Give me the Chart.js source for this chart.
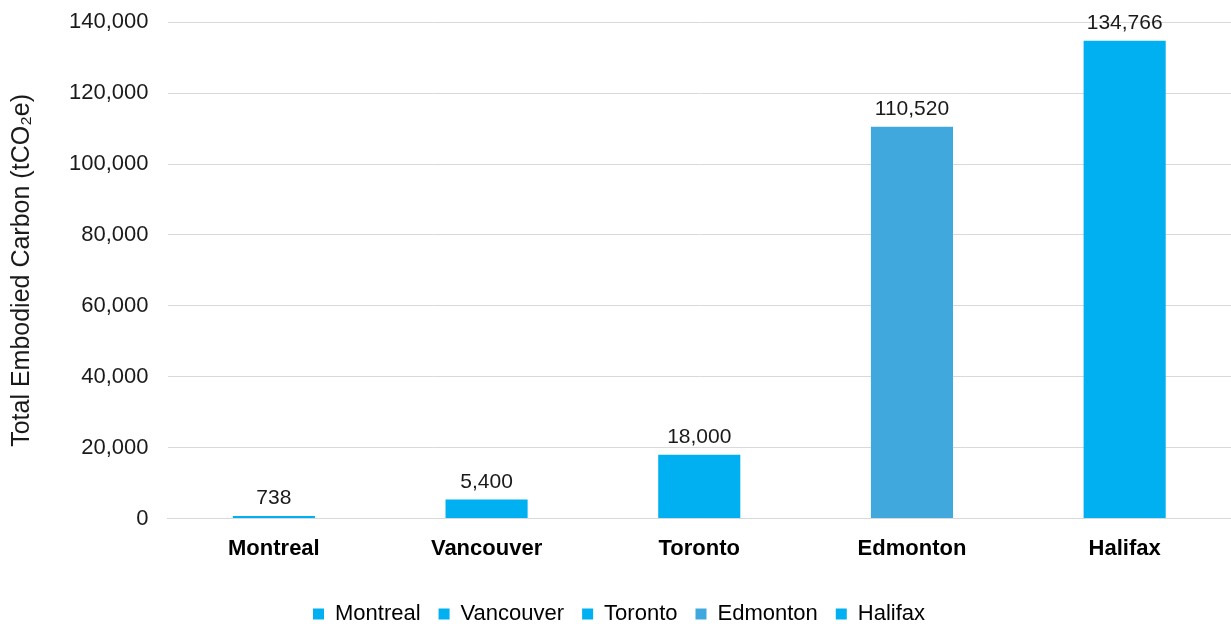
<!DOCTYPE html>
<html>
<head>
<meta charset="utf-8">
<script src="https://cdn.jsdelivr.net/npm/chart.js@4"></script>
<style>
  html, body { margin: 0; padding: 0; background: #fff; }
  #wrap { width: 1231px; height: 624px; position: relative; }
</style>
</head>
<body>
<div id="wrap"><canvas id="carbonChart"></canvas></div>
<script>
const cities = ['Montreal', 'Vancouver', 'Toronto', 'Edmonton', 'Halifax'];
const embodiedCarbon = [738, 5400, 18000, 110520, 134766];
const barColors = ['#00B0F0', '#00B0F0', '#00B0F0', '#41A8DE', '#00B0F0'];
const yTicks = [0, 20000, 40000, 60000, 80000, 100000, 120000, 140000];

const FONT = "'Liberation Sans', Arial, sans-serif";

// draws the value above every bar
const valueLabels = {
    id: 'valueLabels',
    afterDatasetsDraw(chart) {
        const ctx = chart.ctx;
        const meta = chart.getDatasetMeta(0);
        ctx.save();
        ctx.font = `21px ${FONT}`;
        ctx.fillStyle = '#1a1a1a';
        ctx.textAlign = 'center';
        ctx.textBaseline = 'bottom';
        meta.data.forEach((bar, i) => {
            ctx.fillText(embodiedCarbon[i].toLocaleString('en-US'), bar.x, bar.y - 7);
        });
        ctx.restore();
    }
};

const config = {
    type: 'bar',
    data: {
        labels: cities,
        datasets: [{
            label: 'Total Embodied Carbon',
            data: embodiedCarbon,
            backgroundColor: barColors,
            borderWidth: 0,
            categoryPercentage: 1,
            barPercentage: 0.386
        }]
    },
    options: {
        responsive: true,
        maintainAspectRatio: false,
        animation: false,
        layout: { padding: { left: 7, right: 0, top: 1, bottom: -11 } },
        plugins: {
            tooltip: { enabled: false },
            legend: {
                position: 'bottom',
                labels: {
                    font: { family: FONT, size: 22 },
                    color: '#1a1a1a',
                    boxWidth: 11,
                    boxHeight: 11,
                    padding: 18,
                    generateLabels: () => cities.map((c, i) => ({
                        text: c,
                        fillStyle: barColors[i],
                        strokeStyle: barColors[i],
                        lineWidth: 0,
                        index: i
                    }))
                },
                onClick: null
            }
        },
        scales: {
            x: {
                grid: { display: false },
                border: { color: '#d9d9d9', width: 1 },
                afterFit: (axis) => { axis.height += 14; },
                ticks: {
                    font: { family: FONT, size: 22, weight: 'bold' },
                    color: '#000',
                    padding: 9
                }
            },
            y: {
                min: 0,
                max: 140000,
                afterBuildTicks: (axis) => { axis.ticks = yTicks.map(v => ({ value: v })); },
                // invisible tick marks keep the label gap without padding the top
                grid: { color: '#d9d9d9', drawTicks: true, tickLength: 10, tickColor: 'rgba(0,0,0,0)' },
                border: { display: false },
                ticks: {
                    font: { family: FONT, size: 22 },
                    color: '#1a1a1a',
                    padding: 9
                },
                title: {
                    display: true,
                    text: 'Total Embodied Carbon (tCO\u2082e)',
                    font: { family: FONT, size: 25 },
                    color: '#1a1a1a',
                    padding: { top: 0, bottom: 23 }
                }
            }
        }
    },
    plugins: [valueLabels]
};

config.options.scales.y.ticks.callback = (v) => v.toLocaleString('en-US');

new Chart(document.getElementById('carbonChart'), config);
</script>
</body>
</html>
